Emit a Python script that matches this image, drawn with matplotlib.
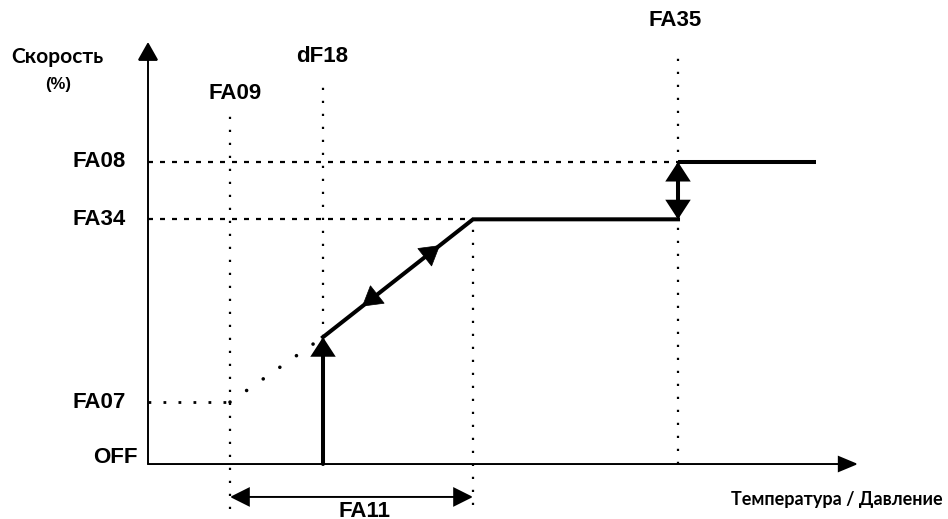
import matplotlib
matplotlib.use("Agg")
import matplotlib.pyplot as plt
from matplotlib.patches import FancyArrowPatch

# --- данные диаграммы (x: температура, у.е.; y: скорость, %) ---
Y_NAMES = ["OFF", "FA07", "FA34", "FA08"]
Y_LEVELS = [0, 20.5, 81, 100]
START_Y = 42                      # скорость при включении (dF18)
X_NAMES = ["FA09", "dF18", "FA35"]
X_POS = [82, 175, 530]
FA11_RANGE = [82, 325]            # зона регулирования
RAMP_X = [175, 325, 530]
RAMP_Y = [START_Y, 81, 81]
HIGH_X = [530, 668]
HIGH_Y = [100, 100]
AXIS_X_END = 710
AXIS_Y_END = 139.7

BLACK = "#000000"
LAB = ["Liberation Sans", "DejaVu Sans"]
CYR = ["Lato", "DejaVu Sans"]

fig = plt.figure(figsize=(9.48, 5.19), dpi=100)
ax = fig.add_axes([0, 0, 1, 1])
ax.set_xlim(-148, 800)
ax.set_ylim(-18.2, 153.6)
ax.axis("off")


def arrow(p0, p1, style, hl, hw, lw):
    a = FancyArrowPatch(p0, p1, arrowstyle=f"{style},head_length={hl},head_width={hw}",
                        mutation_scale=1, lw=lw, color=BLACK, shrinkA=0, shrinkB=0,
                        joinstyle="miter")
    ax.add_patch(a)


# оси
arrow((0, 0), (0, AXIS_Y_END), "-|>", 11.5, 6.5, 1.4)
arrow((0, 0), (AXIS_X_END, 0), "-|>", 12, 5, 1.4)

# вертикальные пунктиры
vdot = dict(color=BLACK, lw=1.6, ls=(0, (1, 4.85)))
ax.plot([X_POS[0], X_POS[0]], [-15, 116], **vdot)
ax.plot([X_POS[1], X_POS[1]], [START_Y, 128], **vdot)
ax.plot([FA11_RANGE[1], FA11_RANGE[1]], [-13.6, RAMP_Y[1]], **vdot)
ax.plot([X_POS[2], X_POS[2]], [0, 136], **vdot)

# горизонтальные штрихи
hdash = dict(color=BLACK, lw=1.6, ls=(0, (2.25, 3.15)))
ax.plot([0, X_POS[2]], [Y_LEVELS[3], Y_LEVELS[3]], **hdash)
ax.plot([0, FA11_RANGE[1]], [Y_LEVELS[2], Y_LEVELS[2]], **hdash)
ax.plot([0, X_POS[0]], [Y_LEVELS[1], Y_LEVELS[1]], color=BLACK, lw=2, ls=(0, (1, 4.4)))
ax.plot([X_POS[0], X_POS[1]], [Y_LEVELS[1], START_Y], color=BLACK, lw=2.6,
        ls=(0, (0.01, 5.6)), dash_capstyle="round")

# характеристика
ax.plot(RAMP_X, RAMP_Y, color=BLACK, lw=2.9, solid_joinstyle="miter")
ax.plot(HIGH_X, HIGH_Y, color=BLACK, lw=2.9, solid_capstyle="butt")
arrow((X_POS[1], 0), (X_POS[1], START_Y), "-|>", 10, 6.5, 2.9)


def along(t):
    return (RAMP_X[0] + t * (RAMP_X[1] - RAMP_X[0]),
            RAMP_Y[0] + t * (RAMP_Y[1] - RAMP_Y[0]))


arrow(along(0.45), along(0.26), "-|>", 13.5, 8, 0.5)
arrow(along(0.58), along(0.78), "-|>", 13.5, 8, 0.5)

# гистерезис FA35 и зона FA11
arrow((X_POS[2], RAMP_Y[2]), (X_POS[2], HIGH_Y[0]), "<|-|>", 10, 6.5, 2.9)
arrow((FA11_RANGE[0], -10.9), (FA11_RANGE[1], -10.9), "<|-|>", 12, 6, 1.4)

# подписи
fs = 16
for name, lvl in zip(Y_NAMES, Y_LEVELS):
    x = -10 if name == "OFF" else -22
    y = lvl + 2.3 if name == "OFF" else lvl
    ax.text(x, y, name, ha="right", va="center", fontsize=fs, fontweight="bold", family=LAB)
ax.text(87, 122.5, "FA09", ha="center", va="center", fontsize=fs, fontweight="bold", family=LAB)
ax.text(174, 134.8, "dF18", ha="center", va="center", fontsize=fs, fontweight="bold", family=LAB)
ax.text(527, 146.7, "FA35", ha="center", va="center", fontsize=fs, fontweight="bold", family=LAB)
ax.text(217, -12.4, "FA11", ha="center", va="top", fontsize=fs, fontweight="bold", family=LAB)
ax.text(-137, 134.8, "Скорость", ha="left", va="center", fontsize=15, fontweight="bold", family=CYR)
ax.text(-90, 125.5, "(%)", ha="center", va="center", fontsize=12, fontweight="bold", family=LAB)
ax.text(795, -11.6, "Температура / Давление", ha="right", va="center", fontsize=13,
        fontweight="bold", family=CYR)

fig.savefig("out.png", dpi=100)
